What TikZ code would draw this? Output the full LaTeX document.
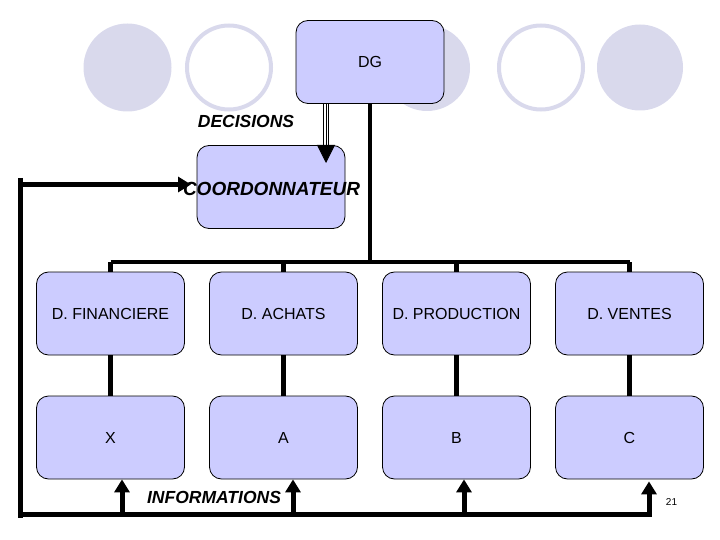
\documentclass[tikz,border=0pt]{standalone}
\usepackage{fontspec}
\setmainfont{Liberation Sans}
\usetikzlibrary{arrows.meta}
\definecolor{boxblue}{RGB}{204,204,255}
\definecolor{ringgray}{RGB}{217,217,236}
\tikzset{x=1pt, y=-1pt,
    unitbox/.style={draw=black, line width=0.8pt, fill=boxblue,
        rounded corners=12pt, minimum width=148pt, minimum height=83pt,
        inner sep=0pt, font=\fontsize{16}{19}\selectfont},
    flowtext/.style={inner sep=0pt, font=\fontsize{17.5}{20}\selectfont\bfseries\itshape},
    busline/.style={line width=3.3pt},
    linkline/.style={line width=4.5pt},
    fbline/.style={line width=5pt},
    fbarrow/.style={line width=5pt, -{Triangle[width=15pt,length=13pt]}},
    triple/.style={line width=1pt, double=white, double distance=4pt},
    }

\begin{document}
\begin{tikzpicture}
	\useasboundingbox (0,0) rectangle (720,540);
	% background rings
	\fill[ringgray] (127.5,67.5) circle (44pt);
	\draw[ringgray, line width=4pt] (229,67.5) circle (42pt);
	\fill[ringgray] (427,68) circle (43pt);
	\draw[ringgray, line width=4pt] (541,67.5) circle (42pt);
	\fill[ringgray] (640,67.5) circle (43pt);

	\node[unitbox] (dg) at (370,62) {DG};
	\node[unitbox] (coord) at (271,187) {};
	\foreach \n/\t [count=\i from 0] in {fin/D. FINANCIERE, ach/D. ACHATS, prod/D. PRODUCTION, ven/D. VENTES}
		\node[unitbox] (\n) at (110.5+173*\i,313.5) {\t};
	\foreach \n/\t [count=\i from 0] in {bx/X, ba/A, bb/B, bc/C}
		\node[unitbox] (\n) at (110.5+173*\i,437.5) {\t};

	\node[flowtext] (decisions) at (246,121) {DECISIONS};
	\node[flowtext] (informations) at (214,497) {INFORMATIONS};
	\node[flowtext, font=\fontsize{19}{22}\selectfont\bfseries\itshape] (coordlabel) at (271.5,188.5) {COORDONNATEUR};
	\node[inner sep=0pt, font=\fontsize{10}{12}\selectfont] (page) at (671.5,502) {21};

	% DG -> coordonnateur
	\coordinate (dgdown) at (326,104);
	\coordinate (coordin) at (326,145);
	\coordinate (coordtip) at (326,163);
	\draw[triple] (dgdown) -- (coordin);
	\draw[line width=0.8pt, -{Triangle[width=18pt,length=18pt]}] (dgdown) -- (coordtip);

	% hierarchy
	\coordinate (busmid) at (370,262);
	\draw[busline] (dg.south) -- (busmid);
	\draw[busline] (fin.north |- busmid) -- (ven.north |- busmid);
	\foreach \a/\b in {fin/bx, ach/ba, prod/bb, ven/bc}{
		\draw[linkline] (\a.north |- busmid) -- (\a.north);
		\draw[linkline] (\a.south) -- (\b.north);
	}

	% feedback loop
	\coordinate (fbtop) at (20,178);
	\coordinate (fbbot) at (20,518);
	\coordinate (fbin) at (20,184.5);
	\coordinate (fbleft) at (20,514.5);
	\coordinate (fbtip) at (191,184.5);
	\draw[fbline] (fbtop) -- (fbbot);
	\draw[fbarrow] (fbin) -- (fbtip);
	\draw[fbarrow] (fbleft) -| ([xshift=19.5pt,yshift=-2pt]bc.south);
	\foreach \b/\s in {bx/11.5, ba/9.5, bb/7.5}
		\draw[fbarrow] ([xshift=\s pt]\b.south |- fbleft) -- ([xshift=\s pt]\b.south);
\end{tikzpicture}
\end{document}
